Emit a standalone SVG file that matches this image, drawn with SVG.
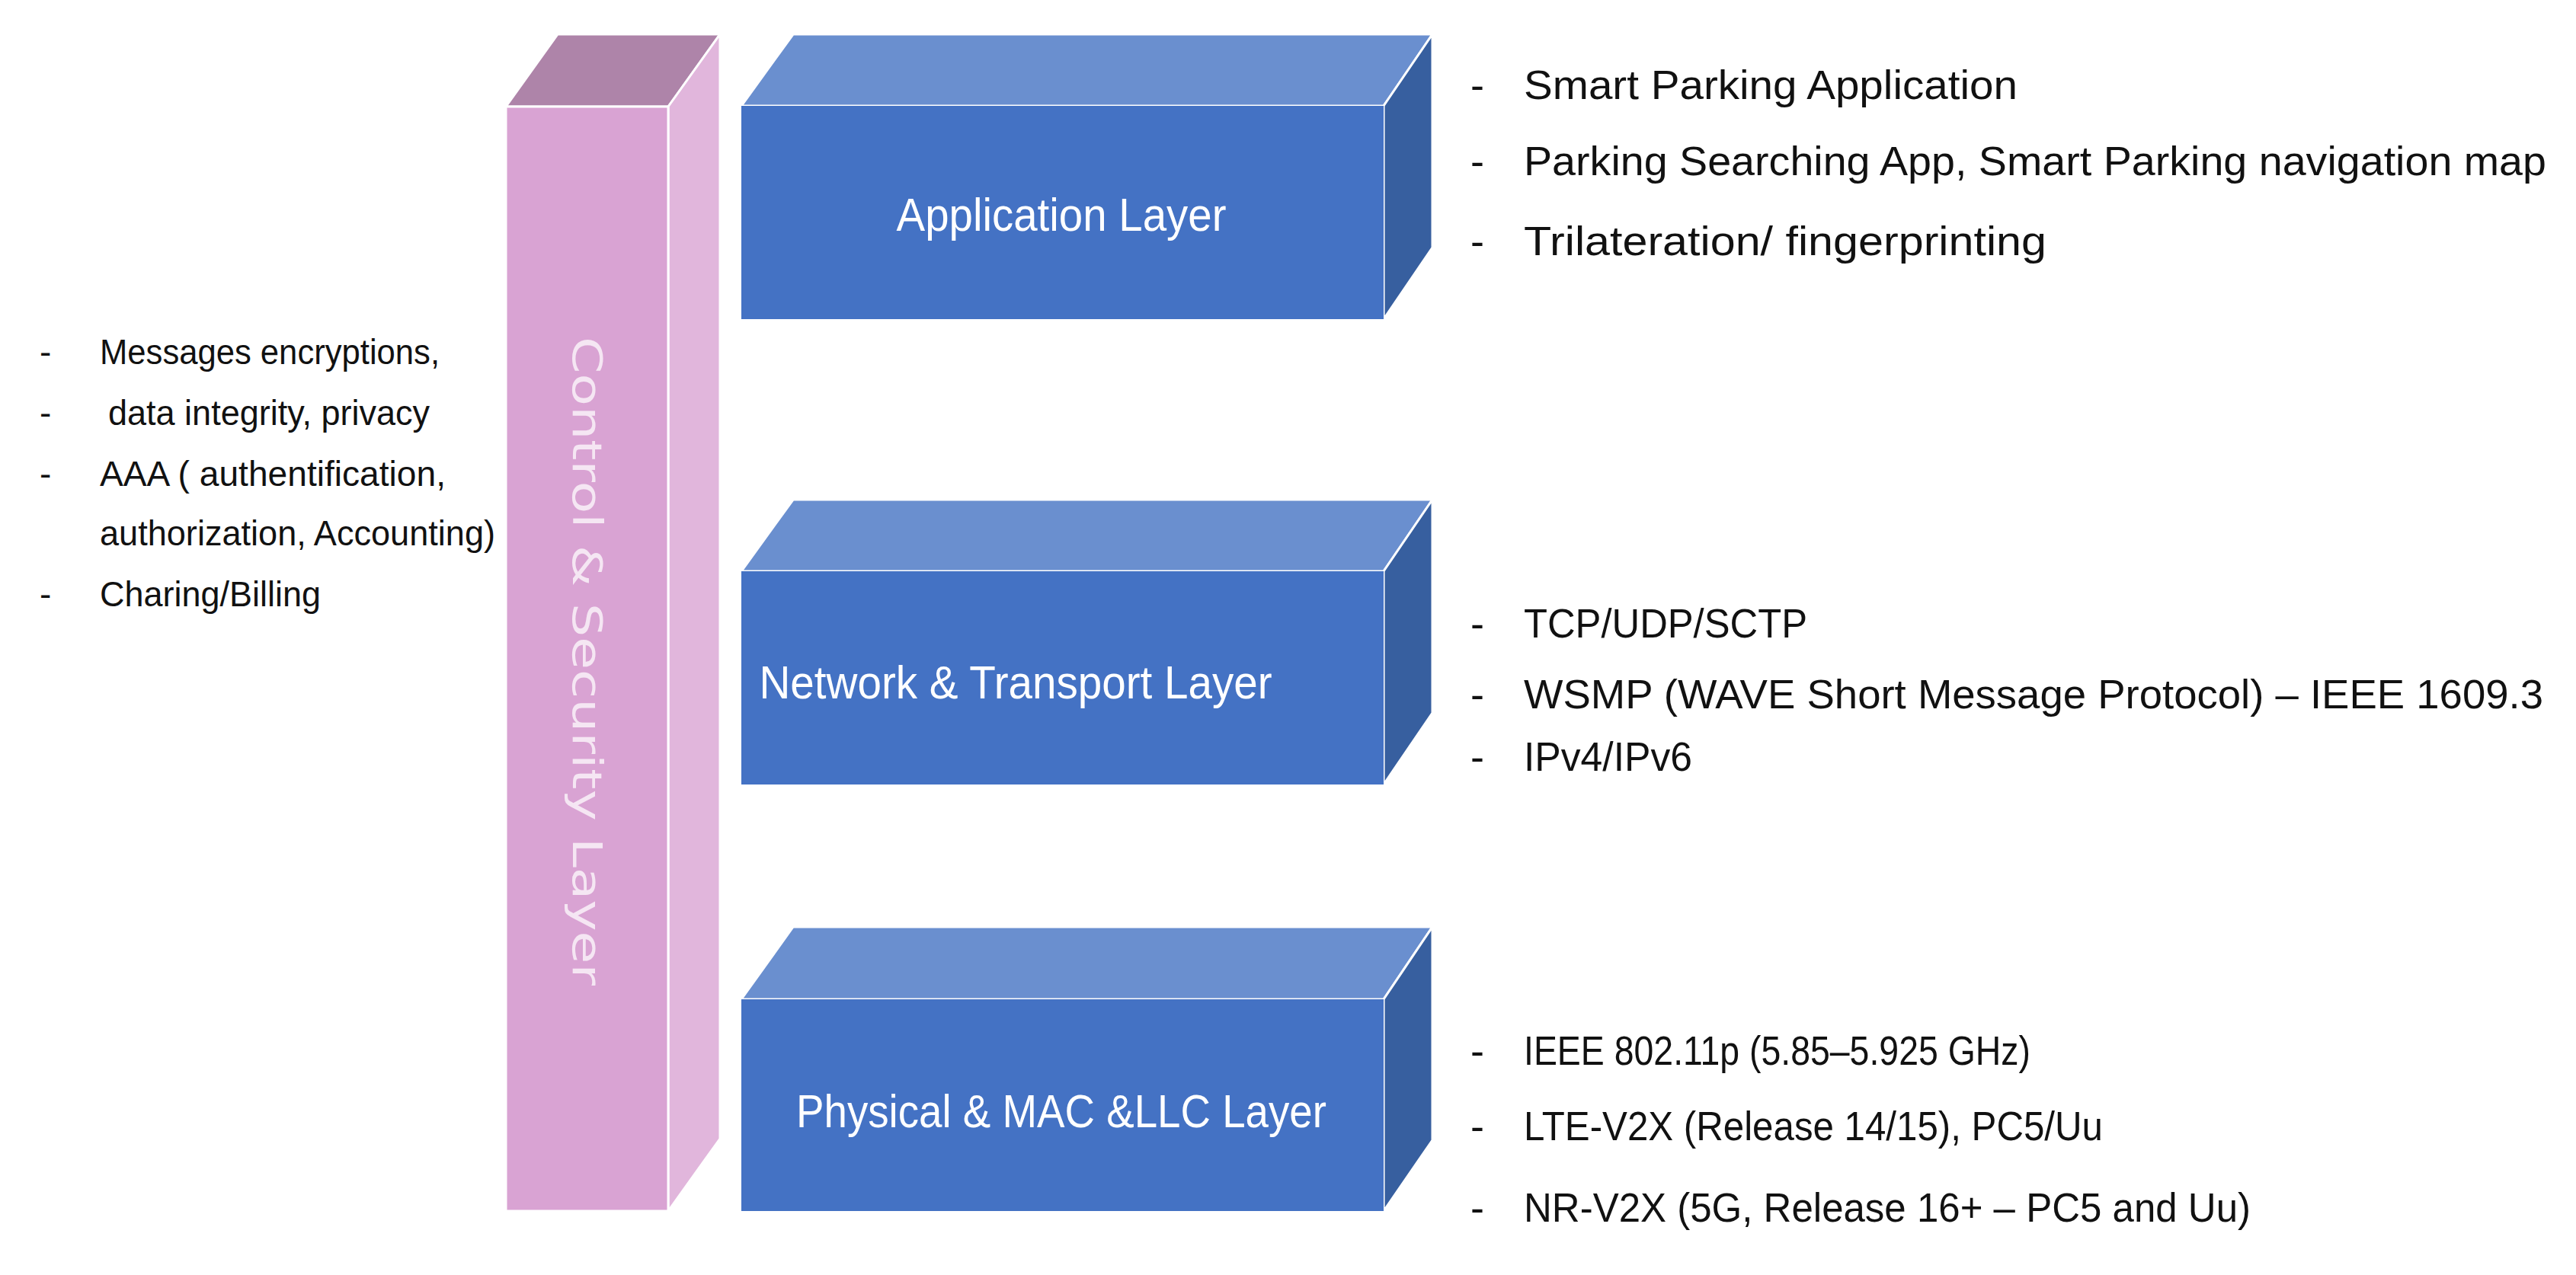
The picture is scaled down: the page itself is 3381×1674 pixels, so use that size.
<svg xmlns="http://www.w3.org/2000/svg" width="3381" height="1674" viewBox="0 0 3381 1674">
<style>
.front{fill:#4472C4}
.top{fill:#6A8FCF;stroke:#fff;stroke-width:3}
.side{fill:#375F9F;stroke:#fff;stroke-width:3}
.lbl{font-family:"Liberation Sans",Arial,sans-serif;font-size:62px;fill:#fff;text-anchor:middle}
.t{font-family:"Liberation Sans",Arial,sans-serif;font-size:54px;fill:#111}
.tl{font-family:"Liberation Sans",Arial,sans-serif;font-size:46px;fill:#111}
</style>
<rect width="3381" height="1674" fill="#fff"/>
<g id="control-security">
<polygon points="664,140 732,45 945,45 877,140" fill="#AE84A9" stroke="#fff" stroke-width="3"/>
<polygon points="877,140 945,45 945,1495 877,1590" fill="#E1B6DC" stroke="#fff" stroke-width="3"/>
<rect x="664" y="140" width="213" height="1450" fill="#D9A3D3" stroke="#fff" stroke-width="3"/>
<text transform="translate(752,868) rotate(90)" font-family="'DejaVu Sans',sans-serif" font-size="54" fill="#F5E6F3" text-anchor="middle" textLength="852" lengthAdjust="spacingAndGlyphs">Control &amp; Security  Layer</text>
</g>
<g id="application-layer">
<polygon class="top" points="973,139 1041,45 1880,45 1816,139"/>
<polygon class="side" points="1816,139 1880,45 1880,325 1816,419"/>
<rect class="front" x="973" y="139" width="843" height="280"/>
<text class="lbl" x="1393" y="303" textLength="433" lengthAdjust="spacingAndGlyphs">Application Layer</text>
</g>
<g id="network-layer">
<polygon class="top" points="973,750 1041,656 1880,656 1816,750"/>
<polygon class="side" points="1816,750 1880,656 1880,936 1816,1030"/>
<rect class="front" x="973" y="750" width="843" height="280"/>
<text class="lbl" x="1333" y="917" textLength="673" lengthAdjust="spacingAndGlyphs">Network &amp; Transport Layer</text>
</g>
<g id="physical-layer">
<polygon class="top" points="973,1312 1041,1217 1880,1217 1816,1312"/>
<polygon class="side" points="1816,1312 1880,1217 1880,1497 1816,1590"/>
<rect class="front" x="973" y="1312" width="843" height="278"/>
<text class="lbl" x="1393" y="1480" textLength="696" lengthAdjust="spacingAndGlyphs">Physical &amp; MAC &amp;LLC  Layer</text>
</g>
<g id="connectors"></g>
<g id="app-notes" class="t">
<text x="1930" y="130">-</text><text x="2000" y="130" textLength="648" lengthAdjust="spacingAndGlyphs">Smart Parking Application</text>
<text x="1930" y="230">-</text><text x="2000" y="230" textLength="1342" lengthAdjust="spacingAndGlyphs">Parking Searching App, Smart Parking navigation map</text>
<text x="1930" y="335">-</text><text x="2000" y="335" textLength="686" lengthAdjust="spacingAndGlyphs">Trilateration/ fingerprinting</text>
</g>
<g id="net-notes" class="t">
<text x="1930" y="837">-</text><text x="2000" y="837" textLength="372" lengthAdjust="spacingAndGlyphs">TCP/UDP/SCTP</text>
<text x="1930" y="930">-</text><text x="2000" y="930" textLength="1338" lengthAdjust="spacingAndGlyphs">WSMP (WAVE Short Message Protocol) – IEEE 1609.3</text>
<text x="1930" y="1012">-</text><text x="2000" y="1012" textLength="221" lengthAdjust="spacingAndGlyphs">IPv4/IPv6</text>
</g>
<g id="phy-notes" class="t">
<text x="1930" y="1398">-</text><text x="2000" y="1398" textLength="665" lengthAdjust="spacingAndGlyphs">IEEE 802.11p (5.85–5.925 GHz)</text>
<text x="1930" y="1497">-</text><text x="2000" y="1497" textLength="760" lengthAdjust="spacingAndGlyphs">LTE-V2X (Release 14/15), PC5/Uu</text>
<text x="1930" y="1604">-</text><text x="2000" y="1604" textLength="954" lengthAdjust="spacingAndGlyphs">NR-V2X (5G, Release 16+ – PC5 and Uu)</text>
</g>
<g id="security-notes" class="tl">
<text x="52" y="478">-</text><text x="131" y="478" textLength="446" lengthAdjust="spacingAndGlyphs">Messages encryptions,</text>
<text x="52" y="558">-</text><text x="142" y="558" textLength="422" lengthAdjust="spacingAndGlyphs">data integrity, privacy</text>
<text x="52" y="638">-</text><text x="131" y="638" textLength="454" lengthAdjust="spacingAndGlyphs">AAA (  authentification,</text>
<text x="131" y="716" textLength="519" lengthAdjust="spacingAndGlyphs">authorization, Accounting)</text>
<text x="52" y="796">-</text><text x="131" y="796" textLength="290" lengthAdjust="spacingAndGlyphs">Charing/Billing</text>
</g>
</svg>
